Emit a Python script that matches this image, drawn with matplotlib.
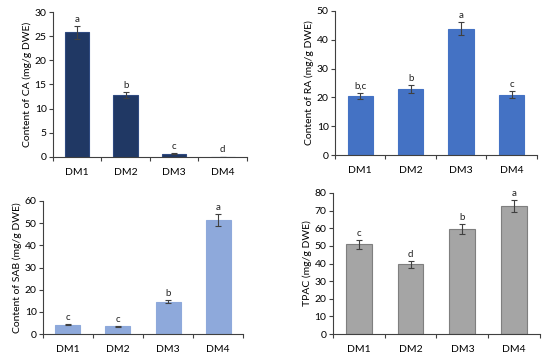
import matplotlib
matplotlib.use('Agg')
import matplotlib.pyplot as plt
import numpy as np

plt.rcParams['font.family'] = ['Lato', 'DejaVu Sans']

samples = ['DM1', 'DM2', 'DM3', 'DM4']

ca_mean = [25.8, 12.8, 0.7, 0.05]
ca_err = [1.3, 0.7, 0.1, 0.0]
ca_letters = ['a', 'b', 'c', 'd']

ra_mean = [20.6, 22.9, 43.8, 21.0]
ra_err = [1.1, 1.3, 2.3, 1.1]
ra_letters = ['b,c', 'b', 'a', 'c']

sab_mean = [4.2, 3.5, 14.7, 51.4]
sab_err = [0.3, 0.2, 0.8, 2.5]
sab_letters = ['c', 'c', 'b', 'a']

tpac_mean = [51.0, 39.5, 59.5, 72.7]
tpac_err = [2.5, 2.0, 3.0, 3.5]
tpac_letters = ['c', 'd', 'b', 'a']

panels = [
    # mean, err, letters, ylabel, ymax, ystep, color, edge, rect
    (ca_mean, ca_err, ca_letters, 'Content of CA (mg/g DWE)', 30, 5,
     '#203864', '#2f4a80', [0.096, 0.569, 0.353, 0.398]),
    (ra_mean, ra_err, ra_letters, 'Content of RA (mg/g DWE)', 50, 10,
     '#4472C4', '#4472C4', [0.609, 0.574, 0.367, 0.396]),
    (sab_mean, sab_err, sab_letters, 'Content of SAB (mg/g DWE)', 60, 10,
     '#8EA9DB', '#8EA9DB', [0.078, 0.082, 0.364, 0.366]),
    (tpac_mean, tpac_err, tpac_letters, 'TPAC (mg/g DWE)', 80, 10,
     '#A5A5A5', '#7F7F7F', [0.605, 0.082, 0.377, 0.388]),
]

fig = plt.figure(figsize=(5.5, 3.64), dpi=100)

for mean, err, letters, ylabel, ymax, ystep, color, edge, rect in panels:
    ax = fig.add_axes(rect)
    x = np.arange(len(samples))
    ax.bar(x, mean, width=0.5, color=color, edgecolor=edge, linewidth=0.8)
    ax.errorbar(x, mean, yerr=err, fmt='none', ecolor='#404040',
                elinewidth=0.8, capsize=2.5, capthick=0.8)
    for xi, m, e, lab in zip(x, mean, err, letters):
        ax.text(xi, m + e + ymax * 0.015, lab, ha='center', va='bottom',
                fontsize=7, color='#222222')
    ax.set_xlim(-0.5, len(samples) - 0.5)
    ax.set_ylim(0, ymax)
    ax.set_yticks(np.arange(0, ymax + 1, ystep))
    ax.set_xticks(np.arange(-0.5, len(samples), 1.0))
    ax.set_xticklabels([])
    ax.set_xticks(x, minor=True)
    ax.set_xticklabels(samples, minor=True)
    ax.tick_params(axis='x', which='minor', length=0, labelsize=7.5, pad=8)
    ax.tick_params(axis='x', which='major', length=3, direction='out', color='#404040')
    ax.tick_params(axis='y', length=3, direction='out', labelsize=7.5, pad=1.5, color='#404040')
    ax.set_ylabel(ylabel, fontsize=7.5, labelpad=2)
    for s in ['top', 'right']:
        ax.spines[s].set_visible(False)
    for s in ['left', 'bottom']:
        ax.spines[s].set_color('#404040')
        ax.spines[s].set_linewidth(0.8)

plt.savefig('out.png', dpi=100)
